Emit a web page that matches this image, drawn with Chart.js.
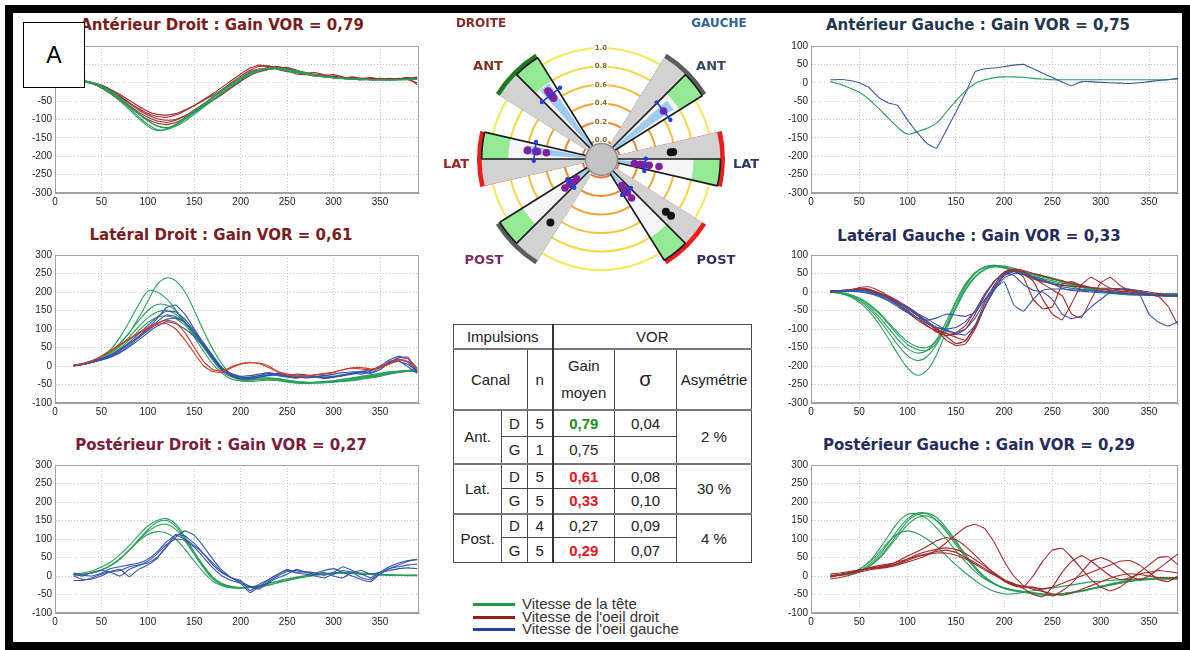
<!DOCTYPE html>
<html lang="fr">
<head>
<meta charset="utf-8">
<title>Gain VOR</title>
<script src="https://cdn.jsdelivr.net/npm/chart.js@4.4.1/dist/chart.umd.min.js"></script>
<style>
  body { margin:0; width:1190px; height:650px; overflow:hidden; background:#fff; position:relative; font-family:"Liberation Sans", Arial, sans-serif; }
  canvas { position:absolute; }
  .ttl { position:absolute; transform:translateX(-50%); white-space:nowrap; font:bold 15px "DejaVu Sans", sans-serif; line-height:18px; z-index:4; }
  .plab { position:absolute; transform:translate(-50%,-50%); white-space:nowrap; font:bold 13px "DejaVu Sans", sans-serif; }
  .side { font-size:12px; }
  #frame { position:absolute; left:5px; top:5px; width:1185px; height:645px; border:8px solid #000; box-sizing:border-box; z-index:10; pointer-events:none; }
  #boxA { position:absolute; left:23px; top:22px; width:62px; height:66px; border:1px solid #000; background:#fff; box-sizing:border-box; z-index:5; font-size:23px; display:flex; align-items:center; justify-content:center; }
  #vorTable { position:absolute; left:453px; top:324px; width:298px; border-collapse:collapse; table-layout:fixed; font-size:15px; color:#222; }
  #vorTable td { border:1px solid #4a4a4a; text-align:center; padding:0; white-space:nowrap; }
  #vorTable td.vl { border-left:2px solid #333; }
  #vorTable tr.grp td { border-top:2px solid #777; }
  .lg { position:absolute; left:473px; font-size:15px; line-height:12px; height:12px; color:#333; white-space:nowrap; }
  .lg span { display:inline-block; width:42px; height:3px; vertical-align:middle; margin-right:7px; position:relative; top:-1px; }
</style>
</head>
<body>

<canvas id="cAntD" width="404" height="172" style="left:21px;top:37px"></canvas>
<canvas id="cLatD" width="404" height="173" style="left:21px;top:246px"></canvas>
<canvas id="cPostD" width="404" height="173" style="left:21px;top:456px"></canvas>
<canvas id="cAntG" width="407" height="172" style="left:777px;top:37px"></canvas>
<canvas id="cLatG" width="407" height="173" style="left:777px;top:246px"></canvas>
<canvas id="cPostG" width="407" height="173" style="left:777px;top:456px"></canvas>
<canvas id="cPolar" width="257" height="257" style="left:473px;top:31px"></canvas>
<canvas id="cPolarDots" width="257" height="257" style="left:473px;top:31px"></canvas>

<div class="ttl" style="left:222px;top:16px;color:#7a1c1c">Antérieur Droit : Gain VOR = 0,79</div>
<div class="ttl" style="left:221px;top:226px;color:#7a1c22">Latéral Droit : Gain VOR = 0,61</div>
<div class="ttl" style="left:221px;top:436px;color:#7a1c3a">Postérieur Droit : Gain VOR = 0,27</div>
<div class="ttl" style="left:978px;top:16px;color:#24354f">Antérieur Gauche : Gain VOR = 0,75</div>
<div class="ttl" style="left:979px;top:227px;color:#262b5c">Latéral Gauche : Gain VOR = 0,33</div>
<div class="ttl" style="left:979px;top:436px;color:#262b5c">Postérieur Gauche : Gain VOR = 0,29</div>

<div class="plab side" style="left:481px;top:23px;color:#8e2a26">DROITE</div>
<div class="plab side" style="left:719px;top:23px;color:#2f5f9c">GAUCHE</div>
<div class="plab" style="left:488px;top:65px;color:#7e3222">ANT</div>
<div class="plab" style="left:711px;top:65px;color:#3b4a66">ANT</div>
<div class="plab" style="left:456px;top:163px;color:#a02424">LAT</div>
<div class="plab" style="left:746px;top:163px;color:#2c3a6a">LAT</div>
<div class="plab" style="left:484px;top:259px;color:#7a2a5e">POST</div>
<div class="plab" style="left:716px;top:259px;color:#2e2f62">POST</div>

<table id="vorTable"></table>

<div class="lg" style="top:598px"><span style="background:#1e9a4a"></span>Vitesse de la tête</div>
<div class="lg" style="top:611px"><span style="background:#9a1a1a"></span>Vitesse de l'oeil droit</div>
<div class="lg" style="top:623px"><span style="background:#1f45a0"></span>Vitesse de l'oeil gauche</div>

<div id="boxA">A</div>
<div id="frame"></div>

<script>
// time axis (ms) shared by every trace
const timeMs = [20,30,40,50,60,70,80,90,100,110,120,130,140,150,160,170,180,190,200,210,220,230,240,250,260,270,280,290,300,310,320,330,340,350,360,370,380,390];

// Antérieur droit
const antDHead = [
  [8,5,0,-10,-26,-46,-68,-92,-113,-127,-128,-116,-98,-79,-60,-40,-21,-4,12,26,34,38,37,32,27,23,19,16,13,11,10,9,9,8,8,9,10,10],
  [6,3,-3,-14,-30,-50,-73,-97,-118,-130,-126,-112,-94,-76,-57,-38,-19,-3,13,27,35,40,40,35,29,24,20,16,14,12,10,9,8,8,7,8,9,10],
  [7,4,-1,-10,-24,-42,-63,-85,-104,-117,-122,-114,-99,-82,-64,-45,-26,-8,9,24,33,38,39,36,31,26,21,17,14,12,10,9,8,8,8,9,9,10],
  [8,6,1,-8,-22,-40,-61,-83,-103,-118,-124,-118,-104,-86,-67,-48,-29,-10,7,22,32,37,40,38,33,28,22,18,15,12,11,10,9,8,8,8,9,11]
];
const antDEyeR = [
  [8,6,0,-8,-20,-36,-54,-70,-84,-92,-94,-88,-76,-62,-46,-30,-12,6,24,40,48,44,36,30,32,28,20,16,18,14,10,12,14,10,8,10,14,12],
  [6,4,-2,-12,-26,-44,-62,-80,-94,-104,-108,-102,-90,-74,-58,-40,-22,-4,14,30,38,36,40,42,34,26,22,18,14,12,16,12,8,10,12,10,8,0],
  [8,5,-1,-10,-22,-38,-56,-74,-88,-98,-102,-100,-90,-78,-62,-46,-30,-12,6,22,34,42,44,38,30,26,28,22,16,12,10,8,10,12,8,10,14,-5],
  [7,4,-2,-14,-30,-48,-66,-84,-100,-110,-114,-108,-96,-80,-64,-48,-32,-14,4,20,30,36,42,40,34,24,18,20,22,16,10,8,12,10,8,12,10,16],
  [6,4,0,-6,-18,-32,-48,-64,-78,-86,-88,-84,-74,-62,-48,-34,-18,0,18,34,44,46,40,32,24,22,24,20,14,12,14,10,8,8,10,8,12,14]
];

// Latéral droit
const latDHead = [
  [0,5,12,22,38,60,90,130,175,220,238,230,200,150,95,45,5,-25,-40,-42,-40,-38,-38,-40,-42,-44,-45,-45,-44,-42,-40,-36,-32,-28,-22,-18,-15,-15],
  [0,6,14,26,45,78,120,165,202,200,182,152,115,78,40,5,-20,-35,-40,-38,-36,-38,-40,-44,-46,-47,-46,-44,-42,-40,-38,-34,-30,-26,-20,-16,-14,-12],
  [0,5,12,24,40,62,90,122,150,166,165,150,120,85,50,15,-15,-30,-36,-38,-36,-35,-38,-42,-46,-47,-46,-45,-43,-40,-36,-32,-28,-24,-20,-16,-14,-14],
  [0,4,10,20,34,54,78,106,130,146,150,140,118,88,55,20,-10,-25,-32,-35,-35,-34,-36,-40,-44,-45,-44,-42,-40,-36,-32,-28,-24,-20,-16,-14,-12,-12],
  [0,4,10,18,30,48,70,95,118,132,135,128,110,84,54,22,-8,-22,-30,-32,-32,-32,-34,-38,-42,-44,-44,-42,-40,-36,-34,-30,-26,-22,-18,-14,-12,-10]
];
const latDEyeL = [
  [2,4,10,18,28,42,60,80,102,128,158,165,140,100,60,20,-10,-25,-32,-30,-26,-24,-22,-28,-30,-26,-28,-32,-30,-26,-22,-18,-20,-10,10,22,24,-10],
  [0,4,10,16,26,38,55,76,98,120,138,134,118,90,55,18,-12,-28,-35,-32,-26,-20,-26,-30,-32,-28,-30,-34,-30,-24,-20,-16,-18,-5,12,18,10,-18],
  [3,6,12,20,30,44,60,78,96,114,126,130,118,92,62,28,-5,-22,-30,-34,-30,-24,-20,-24,-28,-32,-30,-26,-28,-24,-20,-22,-14,-2,8,14,-2,-20],
  [1,5,10,16,24,36,52,70,90,108,120,114,100,80,52,22,-6,-20,-28,-26,-22,-18,-22,-26,-22,-24,-28,-26,-22,-18,-16,-14,-10,-4,6,12,4,-14],
  [2,5,11,19,30,45,64,86,110,132,148,146,126,96,62,26,-6,-24,-34,-36,-30,-26,-24,-28,-32,-30,-28,-30,-28,-26,-20,-16,-12,0,16,26,20,-16]
];
const latDEyeR = [
  [0,6,14,26,40,56,72,88,100,112,115,100,70,35,0,-15,-18,-5,5,8,8,0,-15,-22,-25,-26,-24,-22,-18,-10,-5,-4,-8,-5,5,15,20,-5],
  [2,7,15,27,42,58,74,90,104,116,124,118,90,50,12,-10,-14,-2,6,10,6,-4,-16,-24,-28,-28,-24,-20,-16,-10,-6,-8,-10,-2,8,18,12,-10]
];

// Postérieur droit
const postDHead = [
  [5,8,14,24,38,58,82,110,135,150,155,140,105,65,28,-3,-20,-28,-31,-30,-28,-25,-18,-12,-6,-2,2,5,8,8,7,5,4,3,3,2,2,2],
  [4,5,9,17,29,47,70,98,125,145,150,134,100,60,24,-6,-22,-30,-32,-31,-28,-24,-18,-12,-7,-2,2,5,7,8,7,6,4,3,2,2,1,1],
  [3,4,8,16,28,46,70,96,120,136,140,126,95,58,22,-8,-24,-31,-32,-30,-26,-20,-14,-8,-3,1,4,6,8,9,8,6,5,4,3,2,2,2],
  [2,4,8,16,28,46,70,94,112,120,116,100,72,40,10,-14,-26,-32,-32,-30,-26,-20,-14,-8,-4,0,4,6,8,10,10,8,6,4,3,2,2,2]
];
const postDEyeL = [
  [0,-10,-8,0,12,18,-2,18,30,48,78,105,122,110,80,45,15,-5,-12,-40,-22,-10,5,18,10,12,8,2,10,25,15,5,-5,10,25,35,42,44],
  [-12,-12,-5,5,12,15,25,30,35,50,80,112,108,88,60,30,8,-5,-20,-45,-28,-10,5,15,8,5,0,-5,5,15,10,-5,-10,5,20,30,40,45],
  [8,2,0,8,20,25,30,35,45,65,92,110,100,82,60,35,10,-5,-15,-28,-32,-15,0,12,15,10,5,10,0,-5,10,15,5,10,15,20,22,20],
  [5,0,10,15,10,0,18,28,40,60,85,100,96,78,50,22,0,-12,-20,-30,-35,-18,-5,5,18,10,8,15,20,10,0,-10,-15,5,20,25,30,32]
];

// Antérieur gauche
const antGHead = [
  [3,-4,-14,-26,-45,-70,-96,-122,-140,-133,-124,-110,-80,-50,-22,-2,8,14,16,16,15,12,10,8,8,8,8,8,8,8,8,8,8,8,8,9,10,10]
];
const antGEyeL = [
  [8,9,6,0,-13,-40,-55,-62,-102,-135,-165,-178,-130,-80,-28,30,38,40,44,48,50,38,26,14,2,-8,3,3,1,0,-1,-2,0,3,6,8,12,14]
];

// Latéral gauche
const latGHead = [
  [0,-4,-12,-28,-52,-85,-125,-168,-205,-225,-212,-170,-105,-40,15,50,68,72,66,56,46,38,32,26,20,14,8,4,0,-4,-6,-8,-8,-8,-6,-6,-6,-5],
  [0,-3,-10,-24,-45,-74,-108,-143,-172,-185,-175,-142,-90,-30,20,52,66,70,64,56,48,42,36,30,24,18,12,6,2,-2,-5,-7,-8,-8,-7,-6,-6,-5],
  [0,-3,-9,-22,-40,-66,-97,-128,-153,-165,-158,-128,-80,-25,22,52,68,72,68,60,54,48,42,36,28,20,14,8,2,-2,-4,-6,-8,-8,-6,-5,-5,-4],
  [0,-2,-8,-18,-35,-58,-86,-116,-142,-155,-158,-138,-96,-45,5,40,60,70,70,64,56,50,44,38,30,22,16,10,4,0,-4,-6,-8,-7,-6,-5,-4,-4],
  [2,-1,-6,-16,-32,-54,-82,-110,-134,-148,-150,-132,-92,-42,8,42,62,68,66,60,52,46,40,34,28,22,16,10,4,0,-3,-5,-6,-7,-6,-5,-5,-4]
];
const latGEyeR = [
  [4,4,6,10,8,-2,-14,-28,-45,-62,-78,-98,-120,-140,-132,-90,-30,20,52,60,50,35,28,22,18,16,14,12,10,10,8,6,4,0,-4,-8,-10,-12],
  [2,2,4,12,14,4,-10,-24,-40,-58,-80,-104,-130,-145,-140,-100,-40,10,45,58,40,-20,-45,-40,20,28,18,12,8,6,2,0,-6,-8,-10,-10,-12,-12],
  [0,2,4,6,4,-4,-16,-32,-50,-70,-90,-108,-118,-110,-90,-50,-5,30,50,56,48,30,-20,-60,-75,-30,20,40,25,10,6,4,0,-4,-6,-8,-8,-10],
  [3,4,6,8,6,-2,-12,-26,-44,-64,-84,-100,-112,-122,-130,-95,-40,10,48,62,55,40,22,6,-10,-60,-70,-20,25,40,18,4,-2,-8,-12,-40,-88,-80],
  [1,3,5,8,5,-5,-18,-35,-55,-75,-92,-105,-112,-115,-100,-60,-10,28,54,62,58,50,44,36,30,24,18,12,8,4,2,0,-4,-6,-8,-10,-10,-12]
];
const latGEyeL = [
  [0,2,4,4,0,-8,-18,-30,-45,-62,-80,-95,-105,-110,-100,-70,-25,10,28,-35,-52,-20,5,8,8,6,5,4,2,0,-2,-4,-6,-6,-10,-12,-12,-14],
  [2,2,3,2,-2,-10,-22,-36,-52,-70,-85,-96,-100,-96,-80,-50,-10,30,50,45,20,5,0,-20,-60,-72,-65,-40,-20,0,10,8,2,-4,-8,-10,-12,-14],
  [0,1,2,0,-4,-12,-24,-40,-56,-70,-76,-70,-60,-62,-66,-55,-20,15,45,55,50,40,30,22,14,10,6,4,2,0,-2,-4,-6,-60,-82,-92,-80,-70],
  [1,2,4,6,2,-6,-16,-28,-42,-58,-72,-88,-102,-112,-116,-90,-40,5,38,50,48,42,34,22,10,4,2,0,-2,-2,-4,-6,-6,-8,-8,-10,-10,-12]
];

// Postérieur gauche
const postGHead = [
  [0,2,6,14,30,55,88,125,155,170,168,150,120,85,50,20,-5,-22,-34,-40,-44,-48,-50,-50,-48,-45,-40,-35,-30,-25,-20,-15,-12,-10,-8,-8,-8,-8],
  [0,2,5,12,26,48,80,115,148,166,170,158,130,95,58,25,-2,-20,-32,-38,-42,-46,-50,-52,-50,-46,-42,-36,-30,-24,-18,-14,-10,-8,-6,-6,-6,-6],
  [0,2,5,12,25,46,75,108,138,158,162,150,125,90,55,22,-4,-22,-34,-40,-44,-48,-52,-52,-48,-44,-40,-34,-28,-22,-16,-12,-8,-6,-5,-4,-4,-4],
  [0,3,8,18,38,70,108,145,166,168,155,130,100,68,38,12,-8,-22,-32,-38,-42,-45,-48,-50,-48,-44,-40,-34,-28,-22,-16,-12,-9,-7,-6,-5,-5,-5],
  [0,3,8,18,36,62,92,115,122,115,100,80,55,30,8,-12,-30,-42,-48,-48,-44,-40,-36,-32,-28,-24,-20,-16,-14,-12,-10,-9,-8,-8,-8,-8,-8,-8]
];
const postGEyeR = [
  [-8,-4,2,10,16,20,24,30,38,46,56,70,90,112,132,140,128,90,40,0,-26,-36,-42,-48,-52,-46,-36,-26,-16,-6,2,6,4,0,-4,-6,-4,0],
  [0,4,10,16,20,24,30,40,54,66,80,95,104,98,80,56,30,6,-14,-26,-30,0,40,70,75,50,20,-10,-30,-40,-30,-10,10,30,50,52,30,20],
  [5,8,12,16,20,22,26,34,46,58,66,72,76,72,60,44,26,8,-10,-20,-34,-50,-56,-30,10,40,55,40,20,0,-10,-5,5,10,15,12,8,5],
  [0,4,8,14,22,28,32,38,46,54,60,66,70,64,50,36,20,4,-12,-24,-30,-30,-40,-54,-40,-20,10,40,50,40,20,0,-10,0,20,40,60,85],
  [-3,2,8,14,20,24,28,34,42,52,58,62,62,56,46,32,16,2,-12,-22,-28,-32,-34,-30,-20,-10,0,10,20,30,40,42,30,10,-10,-15,0,10]
];

// summary table, order: Ant D, Ant G, Lat D, Lat G, Post D, Post G
const canalNames = ['Ant.', 'Lat.', 'Post.'];
const sideNames = ['D', 'G'];
const impulseCount = [5, 1, 5, 5, 4, 5];
const gainMean = [0.79, 0.75, 0.61, 0.33, 0.27, 0.29];
const gainSigma = [0.04, null, 0.08, 0.10, 0.09, 0.07];
const asymmetryPct = [2, 30, 4];
const gainStatus = ['good', 'normal', 'bad', 'bad', 'normal', 'bad'];

// polar diagram: single impulse gains and saccade gains per canal (same order)
const impulseGains = [
  [0.85, 0.82, 0.78, 0.76, 0.74],
  [0.75],
  [0.47, 0.58, 0.60, 0.70, 0.70],
  [0.20, 0.27, 0.30, 0.38, 0.50],
  [0.18, 0.25, 0.29, 0.36],
  [0.20, 0.26, 0.29, 0.31, 0.39]
];
const saccadeGains = [[], [], [], [0.64, 0.67], [0.78], [0.80, 0.88]];

// ---------- traces ----------
const TICK_FONT = {size: 10, family: '"Liberation Sans", Arial, sans-serif'};
const COL_HEAD = '#27a05a', COL_EYE_R = '#a2282a', COL_EYE_L = '#3654a8';

const plotFrame = {
  id: 'plotFrame',
  beforeDatasetsDraw(chart) {
    const a = chart.chartArea, ctx = chart.ctx;
    ctx.save();
    ctx.strokeStyle = '#a0a0a0';
    ctx.lineWidth = 1;
    ctx.strokeRect(Math.round(a.left) + 0.5, Math.round(a.top) + 0.5, Math.round(a.right - a.left) - 1, Math.round(a.bottom - a.top) - 1);
    ctx.restore();
  }
};

function traceChart(id, yMin, yMax, xMax, groups) {
  const datasets = [];
  groups.forEach(g => g.series.forEach(s => datasets.push({
    data: s.map((y, i) => ({x: timeMs[i], y})),
    borderColor: g.color, borderWidth: 1.1, pointRadius: 0,
    tension: g.smooth ? 0.35 : 0.1, fill: false
  })));
  const axis = extra => Object.assign({
    ticks: {font: TICK_FONT, color: '#222', padding: 3, stepSize: 50, includeBounds: false, maxRotation: 0, autoSkip: false},
    grid: {color: '#c6c6c6', drawTicks: false},
    border: {color: '#a0a0a0', dash: [1, 2]}
  }, extra);
  return new Chart(document.getElementById(id), {
    type: 'line',
    data: {datasets},
    options: {
      responsive: false, animation: false, devicePixelRatio: 1, events: [],
      layout: {padding: {top: 6, right: 6, left: 0, bottom: 0}},
      plugins: {legend: {display: false}, tooltip: {enabled: false}},
      scales: {
        x: axis({type: 'linear', min: 0, max: xMax, afterFit: s => { s.height = 16; }}),
        y: axis({min: yMin, max: yMax, afterFit: s => { s.width = 34; }})
      }
    },
    plugins: [plotFrame]
  });
}

traceChart('cAntD', -300, 100, 392, [
  {series: antDHead, color: COL_HEAD, smooth: true},
  {series: antDEyeR, color: COL_EYE_R}
]);
traceChart('cLatD', -100, 300, 392, [
  {series: latDEyeR, color: '#c8402a'},
  {series: latDEyeL, color: COL_EYE_L},
  {series: latDHead, color: COL_HEAD, smooth: true}
]);
traceChart('cPostD', -100, 300, 392, [
  {series: postDEyeL, color: COL_EYE_L},
  {series: postDHead, color: COL_HEAD, smooth: true}
]);
traceChart('cAntG', -300, 100, 380, [
  {series: antGEyeL, color: '#3a5a9a'},
  {series: antGHead, color: COL_HEAD, smooth: true}
]);
traceChart('cLatG', -300, 100, 380, [
  {series: latGEyeL, color: COL_EYE_L},
  {series: latGEyeR, color: COL_EYE_R},
  {series: latGHead, color: COL_HEAD, smooth: true}
]);
traceChart('cPostG', -100, 300, 380, [
  {series: postGEyeR, color: COL_EYE_R},
  {series: postGHead, color: COL_HEAD, smooth: true}
]);

// ---------- polar diagram ----------
const R_MIN = -0.2, R_MAX = 1.14;
const WEDGE_OUT = 1.09, ARC_OUT = 1.14, GREEN_FROM = 0.80, HALF_WIDTH = 13;
const sectorAngle = [135, 45, 180, 0, 225, -45];   // maths degrees, same canal order
const statusArc = {good: '#1d7a1d', normal: '#5c5c5c', bad: '#ee1d1d'};
const ringColors = {0: '#e8702c', 2: '#ec8a2c', 4: '#f0a832', 6: '#f2c23a', 8: '#f3d944', 10: '#f4ea55'};
const NONE = 'rgba(0,0,0,0)';
const clockwise = deg => ((90 - deg) % 360 + 360) % 360;
const cwc = sectorAngle.map(clockwise);

function arcLayout(parts) {
  const out = {data: [], angle: [], color: []};
  const push = (v, a, c) => { out.data.push(v); out.angle.push(a); out.color.push(c); };
  let pos = 0;
  parts.slice().sort((p, q) => p.from - q.from).forEach(p => {
    if (p.from - pos > 0.01) push(R_MIN, p.from - pos, NONE);
    push(p.v, p.to - p.from, p.color);
    pos = p.to;
  });
  if (360 - pos > 0.01) push(R_MIN, 360 - pos, NONE);
  return out;
}
function polarSet(parts, style) {
  const lay = arcLayout(parts);
  return Object.assign({
    data: lay.data,
    angle: c => lay.angle[c.dataIndex],
    backgroundColor: lay.color,
    borderWidth: 0
  }, style ? style(lay) : {});
}
const wholeWedge = (v, colorOf) => cwc.map((c, i) => ({from: c - HALF_WIDTH, to: c + HALF_WIDTH, v, color: colorOf(i)}));
const openHalf = (v, color) => cwc.map(c => ({from: c, to: c + HALF_WIDTH, v, color}));

// first dataset is drawn on top
const polarDatasets = [
  polarSet(openHalf(WEDGE_OUT, '#1a1a1a'), lay => ({backgroundColor: NONE, borderColor: lay.color, borderWidth: 1.6})),
  polarSet(cwc.map((c, i) => ({from: c + 3.5, to: c + 10.5, v: gainMean[i], color: '#9dcbf0'}))),
  polarSet(openHalf(GREEN_FROM, '#f5f5f5')),
  polarSet(openHalf(WEDGE_OUT, '#94ea94')),
  polarSet(wholeWedge(WEDGE_OUT, () => '#d2d2d2')),
  polarSet(wholeWedge(ARC_OUT, i => statusArc[gainStatus[i]]))
];

const polar = new Chart(document.getElementById('cPolar'), {
  type: 'polarArea',
  data: {labels: new Array(13).fill(''), datasets: polarDatasets},
  options: {
    responsive: false, animation: false, devicePixelRatio: 1, events: [],
    plugins: {legend: {display: false}, tooltip: {enabled: false}},
    scales: {
      r: {
        min: R_MIN, max: R_MAX, startAngle: 0,
        angleLines: {display: false},
        pointLabels: {display: false},
        grid: {
          circular: true, lineWidth: 2,
          color: c => ringColors[Math.round(c.tick.value * 10)] || NONE
        },
        ticks: {
          stepSize: 0.2, includeBounds: false,
          font: {size: 7, weight: 'bold', family: '"DejaVu Sans", sans-serif'},
          color: '#8a6a2a', backdropPadding: 1,
          backdropColor: c => (c.tick && c.tick.label) ? '#fff' : NONE,
          callback: v => { const k = Math.round(v * 10); return (k >= 0 && k <= 10) ? (k / 10).toFixed(1) : ''; }
        }
      }
    }
  }
});

// dots and error bars, laid over the polar scale with matching geometry
const rs = polar.scales.r;
const SIZE = 257, D = rs.drawingArea, SPAN = R_MAX - R_MIN;
const DOT_OFFSET = -7, SACCADE_OFFSET = 6, BAR_HALF_ANGLE = 8;
const rad = d => d * Math.PI / 180;
const polarPoint = (v, deg) => ({x: (v - R_MIN) * Math.cos(rad(deg)), y: (v - R_MIN) * Math.sin(rad(deg))});

const purpleDots = impulseGains.flatMap((gs, i) => gs.map(g => polarPoint(g, sectorAngle[i] + DOT_OFFSET)));
const blackDots = saccadeGains.flatMap((gs, i) => gs.map(g => polarPoint(g, sectorAngle[i] + SACCADE_OFFSET)));
const errorBars = gainMean.map((g, i) => {
  const a = sectorAngle[i] + DOT_OFFSET, p = polarPoint(g, a);
  const h = (g - R_MIN) * Math.tan(rad(BAR_HALF_ANGLE));
  const tx = -Math.sin(rad(a)) * h, ty = Math.cos(rad(a)) * h;
  return [{x: p.x - tx, y: p.y - ty}, {x: p.x + tx, y: p.y + ty}];
});

new Chart(document.getElementById('cPolarDots'), {
  type: 'scatter',
  data: {
    datasets: [
      ...errorBars.map(b => ({data: b, showLine: true, borderColor: '#1f3fe0', borderWidth: 1.6,
        pointRadius: 2.2, pointBackgroundColor: '#1f3fe0', pointBorderWidth: 0, clip: false})),
      {data: purpleDots, pointRadius: 3.8, pointBackgroundColor: '#7e22a0', pointBorderWidth: 0, clip: false},
      {data: blackDots, pointRadius: 4, pointBackgroundColor: '#111', pointBorderWidth: 0, clip: false},
      {data: [{x: 0, y: 0}], pointRadius: 16, pointBackgroundColor: '#c4c4c4', pointBorderColor: '#8d8d8d', pointBorderWidth: 1.5, clip: false}
    ]
  },
  options: {
    responsive: false, animation: false, devicePixelRatio: 1, events: [],
    layout: {padding: {left: rs.xCenter - D, top: rs.yCenter - D, right: SIZE - rs.xCenter - D, bottom: SIZE - rs.yCenter - D}},
    plugins: {legend: {display: false}, tooltip: {enabled: false}},
    scales: {
      x: {type: 'linear', display: false, min: -SPAN, max: SPAN},
      y: {type: 'linear', display: false, min: -SPAN, max: SPAN}
    }
  }
});

// ---------- table ----------
const fmt = v => v.toFixed(2).replace('.', ',');
const gainStyle = {good: 'color:#1e8c1e;font-weight:bold', normal: '', bad: 'color:#e8141c;font-weight:bold'};
const rowHeight = [27, 27, 25, 25, 24, 25];
let html = '<colgroup><col style="width:48px"><col style="width:26px"><col style="width:25px"><col style="width:62px"><col style="width:62px"><col style="width:75px"></colgroup>';
html += '<tr style="height:24px"><td colspan="3">Impulsions</td><td colspan="3" class="vl">VOR</td></tr>';
html += '<tr class="grp" style="height:61px"><td colspan="2">Canal</td><td>n</td><td class="vl" style="line-height:27px">Gain<br>moyen</td><td style="font-size:20px">σ</td><td>Asymétrie</td></tr>';
canalNames.forEach((canal, c) => {
  sideNames.forEach((side, s) => {
    const k = c * 2 + s;
    let row = `<tr style="height:${rowHeight[k]}px"${s === 0 ? ' class="grp"' : ''}>`;
    if (s === 0) row += `<td rowspan="2">${canal}</td>`;
    row += `<td>${side}</td><td>${impulseCount[k]}</td>`;
    row += `<td class="vl" style="${gainStyle[gainStatus[k]]}">${fmt(gainMean[k])}</td>`;
    row += `<td>${gainSigma[k] == null ? '' : fmt(gainSigma[k])}</td>`;
    if (s === 0) row += `<td rowspan="2">${asymmetryPct[c]} %</td>`;
    html += row + '</tr>';
  });
});
document.getElementById('vorTable').innerHTML = html;
</script>
</body>
</html>
